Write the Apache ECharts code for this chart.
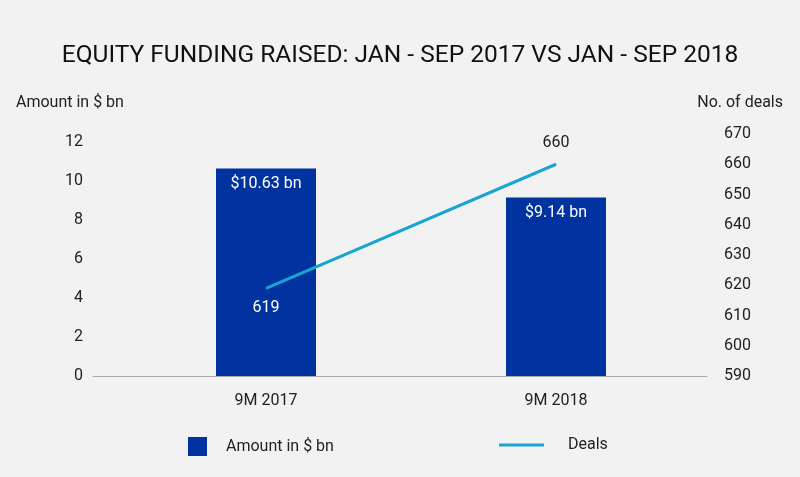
<!DOCTYPE html>
<html>
<head>
<meta charset="utf-8">
<script src="https://cdn.jsdelivr.net/npm/echarts@6/dist/echarts.min.js"></script>
<style>
html,body{margin:0;padding:0;background:#f2f2f2;}
#c{width:800px;height:477px;}
</style>
</head>
<body>
<div id="c"></div>
<script>
var categories = ['9M 2017', '9M 2018'];
var amountValues = [10.63, 9.14];
var dealValues = [619, 660];
var amountLabels = ['$10.63 bn', '$9.14 bn'];

var chart = echarts.init(document.getElementById('c'));
var font = 'Roboto';
var option = {
  backgroundColor: '#f2f2f2',
  animation: false,
  textStyle: { fontFamily: font },
  title: {
    text: 'EQUITY FUNDING RAISED: JAN - SEP 2017 VS JAN - SEP 2018',
    left: 'center', top: 38,
    textStyle: { fontFamily: font, fontSize: 24.5, fontWeight: 'normal', color: '#111' }
  },
  legend: [{
    data: [{ name: 'Amount in $ bn', icon: 'rect' }],
    left: 183, top: 432,
    itemWidth: 19, itemHeight: 19,
    textStyle: { fontFamily: font, fontSize: 16, color: '#222', padding: [6, 0, 0, 14] }
  }, {
    data: [{ name: 'Deals', icon: 'rect' }],
    left: 494, top: 432,
    itemWidth: 45, itemHeight: 3,
    textStyle: { fontFamily: font, fontSize: 16, color: '#222', padding: [6, 0, 0, 19] }
  }],
  grid: [
    { left: 121, right: 99, top: 134, bottom: 101, containLabel: false },
    { left: 93, right: 93, top: 134, bottom: 101, containLabel: false }
  ],
  xAxis: [{
    type: 'category', data: categories, gridIndex: 0,
    axisLine: { show: false },
    axisTick: { show: false },
    axisLabel: { fontFamily: font, fontSize: 16, color: '#222', margin: 17 }
  }, {
    type: 'category', data: [''], gridIndex: 1,
    axisLine: { show: true, lineStyle: { color: '#aaaaaa', width: 1 } },
    axisTick: { show: false },
    axisLabel: { show: false }
  }],
  yAxis: [{
    type: 'value', gridIndex: 0, min: 0, max: 12.4, interval: 2,
    name: 'Amount in $ bn', nameLocation: 'end', nameGap: 23,
    nameTextStyle: { fontFamily: font, fontSize: 16, color: '#222', align: 'left', padding: [0, 0, 0, -105] },
    axisLine: { show: false }, axisTick: { show: false }, splitLine: { show: false },
    axisLabel: { fontFamily: font, fontSize: 16, color: '#222', margin: 38, showMaxLabel: false }
  }, {
    type: 'value', gridIndex: 0, position: 'right', min: 590, max: 670, interval: 10,
    name: 'No. of deals', nameLocation: 'end', nameGap: 23,
    nameTextStyle: { fontFamily: font, fontSize: 16, color: '#222', align: 'right', padding: [0, -82, 0, 0] },
    axisLine: { show: false }, axisTick: { show: false }, splitLine: { show: false },
    axisLabel: { fontFamily: font, fontSize: 16, color: '#222', margin: 23 }
  }, {
    type: 'value', gridIndex: 1, show: false
  }],
  series: [{
    name: 'Amount in $ bn', type: 'bar', xAxisIndex: 0, yAxisIndex: 0,
    data: amountValues, barWidth: 100,
    itemStyle: { color: '#0033a0' },
    label: {
      show: true, position: 'insideTop', distance: 7,
      color: '#ffffff', fontFamily: font, fontSize: 16,
      formatter: function (p) { return amountLabels[p.dataIndex]; }
    }
  }, {
    name: 'Deals', type: 'line', xAxisIndex: 0, yAxisIndex: 1,
    data: [
      { value: dealValues[0], label: { position: 'bottom', distance: 11, color: '#ffffff' } },
      { value: dealValues[1], label: { position: 'top', distance: 13, color: '#222' } }
    ],
    symbol: 'circle', symbolSize: 1, showSymbol: true,
    lineStyle: { color: '#1ba3d2', width: 3 },
    itemStyle: { color: '#1ba3d2' },
    label: { show: true, fontFamily: font, fontSize: 16 },
    z: 5
  }]
};
chart.setOption(option);
</script>
</body>
</html>
